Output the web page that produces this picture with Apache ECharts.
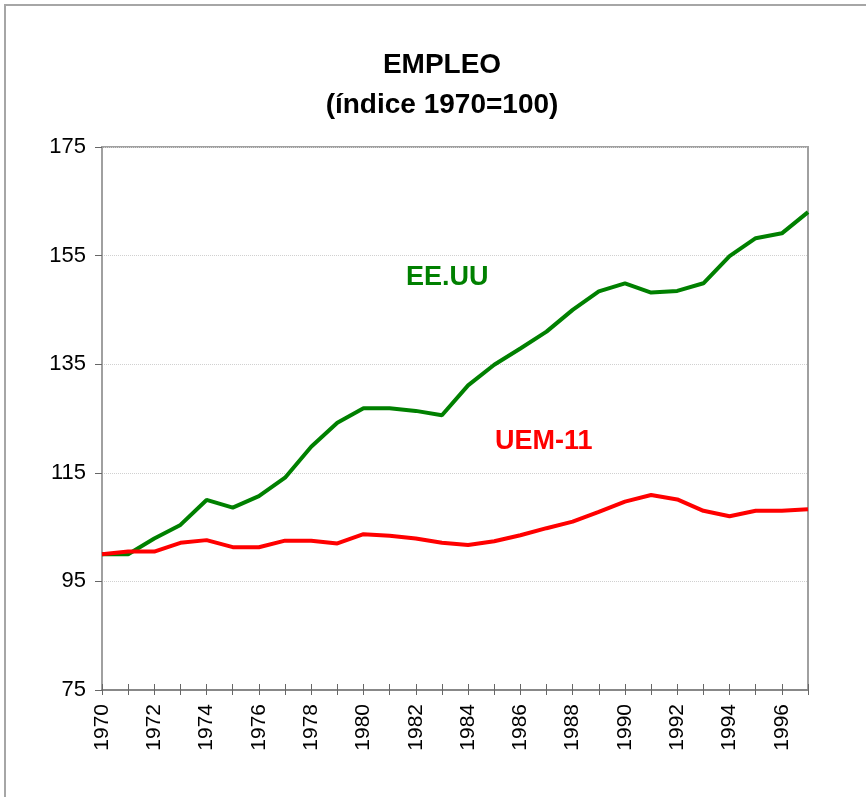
<!DOCTYPE html>
<html>
<head>
<meta charset="utf-8">
<script src="https://cdn.jsdelivr.net/npm/echarts@6/dist/echarts.min.js"></script>
<style>
  html, body { margin: 0; padding: 0; background: #fff; }
  #chart { width: 866px; height: 797px; }
</style>
</head>
<body>
<div id="chart"></div>
<script>
const years = ['1970','1971','1972','1973','1974','1975','1976','1977','1978','1979',
  '1980','1981','1982','1983','1984','1985','1986','1987','1988','1989',
  '1990','1991','1992','1993','1994','1995','1996','1997'];

// EE.UU
const usa = [100.0, 100.0, 102.9, 105.4, 110.0, 108.6, 110.7, 114.1, 119.8, 124.2,
  126.9, 126.9, 126.4, 125.6, 131.1, 134.9, 137.9, 141.0, 145.0, 148.4,
  149.9, 148.2, 148.5, 149.9, 154.9, 158.2, 159.1, 163.0];

// UEM-11
const uem = [100.0, 100.5, 100.5, 102.1, 102.6, 101.3, 101.3, 102.5, 102.5, 102.0,
  103.7, 103.4, 102.9, 102.1, 101.7, 102.4, 103.5, 104.8, 106.0, 107.8,
  109.7, 110.9, 110.1, 108.0, 107.0, 108.0, 108.0, 108.3];

const yTicks = [75, 95, 115, 135, 155, 175];

const chart = echarts.init(document.getElementById('chart'));
const font = 'Liberation Sans, Arial, sans-serif';

chart.setOption({
  animation: false,
  backgroundColor: '#fff',
  title: {
    text: 'EMPLEO\n(índice 1970=100)',
    left: 437,
    textAlign: 'center',
    top: 40,
    textStyle: { fontFamily: font, fontSize: 28, fontWeight: 'bold', color: '#000', lineHeight: 40 }
  },
  grid: {
    left: 102, right: 58, top: 147, bottom: 107,
    show: true, borderColor: '#a0a0a0', borderWidth: 2
  },
  xAxis: [{
    type: 'category',
    data: years,
    boundaryGap: false,
    position: 'bottom',
    axisLine: { lineStyle: { color: '#888', width: 2 } },
    axisTick: { interval: 0, length: 5, lineStyle: { color: '#666', width: 1 } },
    axisLabel: {
      interval: 1, rotate: 90, margin: 14,
      fontFamily: font, fontSize: 21, color: '#000'
    },
    splitLine: { show: false }
  }, {
    type: 'category',
    data: years,
    boundaryGap: false,
    position: 'bottom',
    axisLine: { show: false },
    axisTick: { interval: 0, inside: true, length: 6, lineStyle: { color: '#666', width: 1 } },
    axisLabel: { show: false },
    splitLine: { show: false }
  }],
  yAxis: {
    type: 'value',
    min: yTicks[0],
    max: yTicks[yTicks.length - 1],
    interval: 20,
    axisLine: { show: true, lineStyle: { color: '#a0a0a0', width: 2 } },
    axisTick: { show: true, length: 7, lineStyle: { color: '#666', width: 1 } },
    axisLabel: { margin: 16, fontFamily: font, fontSize: 22, color: '#000' },
    splitLine: { show: true, lineStyle: { color: '#d0d0d0', type: 'dotted', width: 1 } }
  },
  series: [{
    name: 'EE.UU',
    type: 'line',
    data: usa,
    symbol: 'none',
    lineStyle: { color: '#008000', width: 4 },
    itemStyle: { color: '#008000' },
    z: 3
  }, {
    name: 'UEM-11',
    type: 'line',
    data: uem,
    symbol: 'none',
    lineStyle: { color: '#ff0000', width: 4 },
    itemStyle: { color: '#ff0000' },
    z: 4
  }],
  graphic: [{
    type: 'rect',
    shape: { x: 5, y: 5, width: 880, height: 820 },
    style: { fill: 'none', stroke: '#a6a6a6', lineWidth: 2 },
    silent: true, z: -1
  }, {
    type: 'text',
    left: 406, top: 264,
    style: { text: 'EE.UU', fill: '#008000', font: 'bold 27px ' + font }
  }, {
    type: 'text',
    left: 495, top: 428,
    style: { text: 'UEM-11', fill: '#ff0000', font: 'bold 27px ' + font }
  }]
});
</script>
</body>
</html>
